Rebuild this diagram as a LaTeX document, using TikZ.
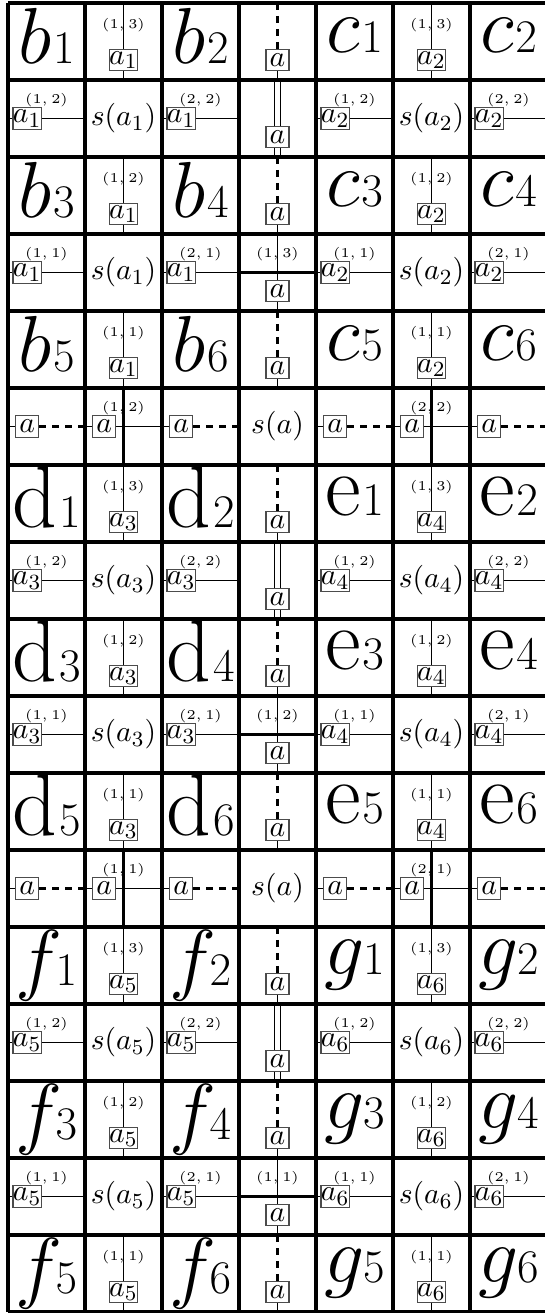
\documentclass[tikz,border=0pt]{standalone}
\usepackage{graphicx}
\newcommand\biglab[2]{\scalebox{1.18}{\Huge$#1_{}$}{\LARGE$#2$}}
\newcommand\bigup[2]{\scalebox{1.3}{\Huge$\mathrm{#1}_{}$}{\LARGE$#2$}}
\tikzset{
  gridline/.style={line width=1.2pt},
  conn/.style={line width=0.5pt},
  dconn/.style={line width=0.8pt, dash pattern=on 2.6pt off 2.2pt},
  thickline/.style={line width=1.2pt},
  dbl/.style={line width=0.5pt, double, double distance=1.7pt},
  abox/.style={draw=black!70, line width=0.4pt, fill=white, minimum width=8.5pt, minimum height=8pt, inner sep=0pt, font=\fontsize{11}{11}\selectfont},
  lbl/.style={font=\tiny, inner sep=0pt},
  biglabel/.style={inner sep=0pt},
  midtext/.style={inner sep=0pt, font=\fontsize{11}{11}\selectfont},
}
\begin{document}
\begin{tikzpicture}[x=1cm, y=-1cm]
\useasboundingbox (-0.1039,-0.039) rectangle (6.974,17.013);
\clip (-0.1039,-0.039) rectangle (6.974,17.013);
\foreach \blk/\rb/\Lone/\Ltwo/\ia/\ib/\nrows/\bl in {0/0/b/c/1/2/6/\biglab, 1/6/d/e/3/4/6/\bigup, 2/12/f/g/5/6/5/\biglab} {
  % even rows: big labels, vertical connectors
  \foreach \j in {0,1,2} {
    \pgfmathtruncatemacro\rr{\rb+2*\j}
    \pgfmathtruncatemacro\sa{2*\j+1}
    \pgfmathtruncatemacro\sb{2*\j+2}
    \pgfmathtruncatemacro\pp{3-\j}
    \node[biglabel] (t-\rr-0) at (0.5,\rr+0.5) {\bl{\Lone}{\sa}};
    \node[biglabel] (t-\rr-2) at (2.5,\rr+0.5) {\bl{\Lone}{\sb}};
    \node[biglabel] (t-\rr-4) at (4.5,\rr+0.5) {\bl{\Ltwo}{\sa}};
    \node[biglabel] (t-\rr-6) at (6.5,\rr+0.5) {\bl{\Ltwo}{\sb}};
    \foreach \cc/\ii in {1/\ia, 5/\ib} {
      \coordinate (T-\rr-\cc) at (\cc+0.5,\rr);
      \coordinate (B-\rr-\cc) at (\cc+0.5,\rr+1);
      \node[abox] (x-\rr-\cc) at (\cc+0.5,\rr+0.74) {$a_{\ii}$};
      \node[lbl] (l-\rr-\cc) at (\cc+0.5,\rr+0.29) {$(1,\pp)$};
      \draw[conn] (T-\rr-\cc) -- (x-\rr-\cc.north);
      \draw[conn] (x-\rr-\cc.south) -- (B-\rr-\cc);
    }
    \coordinate (T-\rr-3) at (3.5,\rr);
    \coordinate (B-\rr-3) at (3.5,\rr+1);
    \node[abox] (x-\rr-3) at (3.5,\rr+0.74) {$a$};
    \draw[dconn] (T-\rr-3) -- (x-\rr-3.north);
    \draw[conn] (x-\rr-3.south) -- (B-\rr-3);
  }
  % odd rows
  \foreach \m in {0,1} {
    \pgfmathtruncatemacro\rr{\rb+1+2*\m}
    \pgfmathtruncatemacro\qq{2-\m}
    \foreach \cc/\ff/\ii in {0/1/\ia, 2/2/\ia, 4/1/\ib, 6/2/\ib} {
      \coordinate (L-\rr-\cc) at (\cc,\rr+0.5);
      \coordinate (R-\rr-\cc) at (\cc+1,\rr+0.5);
      \node[abox] (x-\rr-\cc) at (\cc+0.25,\rr+0.5) {$a_{\ii}$};
      \node[lbl] (l-\rr-\cc) at (\cc+0.5,\rr+0.26) {$(\ff,\qq)$};
      \draw[conn] (L-\rr-\cc) -- (x-\rr-\cc.west);
      \draw[conn] (x-\rr-\cc.east) -- (R-\rr-\cc);
    }
    \node[midtext] (t-\rr-1) at (1.5,\rr+0.5) {$s(a_{\ia})$};
    \node[midtext] (t-\rr-5) at (5.5,\rr+0.5) {$s(a_{\ib})$};
    \coordinate (T-\rr-3) at (3.5,\rr);
    \coordinate (B-\rr-3) at (3.5,\rr+1);
    \ifnum\m=0
      \draw[dbl] (T-\rr-3) -- (B-\rr-3);
      \node[abox] (x-\rr-3) at (3.5,\rr+0.74) {$a$};
    \else
      \pgfmathtruncatemacro\sss{3-\blk}
      \coordinate (L-\rr-3) at (3,\rr+0.5);
      \coordinate (R-\rr-3) at (4,\rr+0.5);
      \node[abox] (x-\rr-3) at (3.5,\rr+0.74) {$a$};
      \node[lbl] (l-\rr-3) at (3.5,\rr+0.26) {$(1,\sss)$};
      \draw[conn] (T-\rr-3) -- (x-\rr-3.north);
      \draw[conn] (x-\rr-3.south) -- (B-\rr-3);
      \draw[thickline] (L-\rr-3) -- (R-\rr-3);
    \fi
  }
  % separator row
  \ifnum\nrows=6
    \pgfmathtruncatemacro\rr{\rb+5}
    \pgfmathtruncatemacro\qq{2-\blk}
    \foreach \cc in {0,2,4,6} {
      \coordinate (L-\rr-\cc) at (\cc,\rr+0.5);
      \coordinate (R-\rr-\cc) at (\cc+1,\rr+0.5);
      \node[abox] (x-\rr-\cc) at (\cc+0.25,\rr+0.5) {$a$};
      \draw[conn] (L-\rr-\cc) -- (x-\rr-\cc.west);
      \draw[dconn] (x-\rr-\cc.east) -- (R-\rr-\cc);
    }
    \foreach \cc/\ff in {1/1, 5/2} {
      \coordinate (T-\rr-\cc) at (\cc+0.5,\rr);
      \coordinate (B-\rr-\cc) at (\cc+0.5,\rr+1);
      \coordinate (L-\rr-\cc) at (\cc,\rr+0.5);
      \coordinate (R-\rr-\cc) at (\cc+1,\rr+0.5);
      \draw[thickline] (T-\rr-\cc) -- (B-\rr-\cc);
      \node[abox] (x-\rr-\cc) at (\cc+0.25,\rr+0.5) {$a$};
      \node[lbl] (l-\rr-\cc) at (\cc+0.5,\rr+0.26) {$(\ff,\qq)$};
      \draw[conn] (L-\rr-\cc) -- (x-\rr-\cc.west);
      \draw[conn] (x-\rr-\cc.east) -- (R-\rr-\cc);
    }
    \node[midtext] (t-\rr-3) at (3.5,\rr+0.5) {$s(a)$};
  \fi
}
% cell grid
\foreach \yy in {0,...,17} { \draw[gridline] (0,\yy) -- (7,\yy); }
\foreach \xx in {0,...,7} { \draw[gridline] (\xx,0) -- (\xx,17); }
\end{tikzpicture}
\end{document}
